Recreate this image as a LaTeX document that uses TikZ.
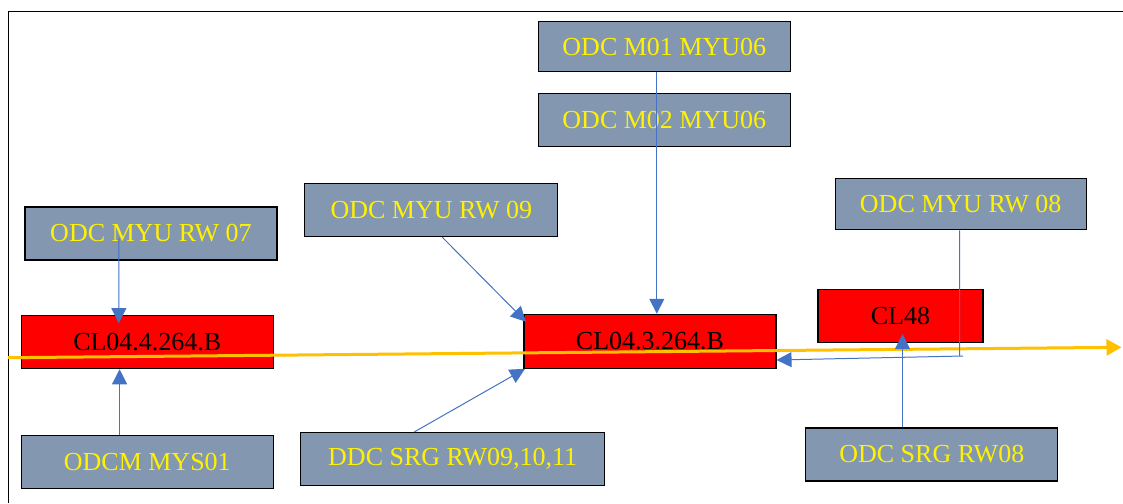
\documentclass[tikz,border=0pt]{standalone}
\usepackage{fontspec}
\setmainfont{Liberation Serif}
\usetikzlibrary{arrows.meta,positioning}
\definecolor{boxgray}{HTML}{8497B0}
\definecolor{linkblue}{HTML}{4472C4}
\definecolor{railorange}{HTML}{FFC000}
\begin{document}
\begin{tikzpicture}[x=1pt, y=-1pt,
        odc/.style={rectangle, draw=black, line width=1.1pt, fill=boxgray, text=yellow, minimum width=252pt, minimum height=53pt, inner sep=0pt, font=\fontsize{26}{30}\selectfont},
        cl/.style={odc, fill=red, text=black},
        link/.style={draw=linkblue, line width=1pt, -{Triangle[length=15pt,width=15pt]}},
        rail/.style={draw=railorange, line width=3pt, -{Triangle[length=15pt,width=16pt]}}]
        \useasboundingbox (0,0) rectangle (1123,503);
        \draw[line width=1pt] (8,503) -- (8,11.5) -- (1123,11.5);
        % left group
        \node [odc] (rw07) at (151,233.5) {ODC MYU RW 07};
        \node [cl] (cl044) at (147.3,342.2) {CL04.4.264.B};
        \node [odc] (mys01) at (147.3,461.7) {ODCM MYS01};
        % middle group
        \node [odc, minimum width=253pt] (rw09) at (431.3,210.2) {ODC MYU RW 09};
        \node [odc, minimum width=304pt] (ddc) at (452.7,459) {DDC SRG RW09,10,11};
        \node [odc, minimum height=50pt] (m01) at (664.3,46.9) {ODC M01 MYU06};
        \node [odc] (m02) at (664.3,120) {ODC M02 MYU06};
        \node [cl, minimum height=54pt] (cl043) at (650,341.3) {CL04.3.264.B};
        % right group
        \node [odc, minimum width=251pt, minimum height=51pt] (rw08) at (960.7,204.3) {ODC MYU RW 08};
        \node [cl, minimum width=165pt] (cl48) at (900.5,316) {CL48};
        \node [odc] (srg08) at (931.8,454.5) {ODC SRG RW08};
        \coordinate (railL) at (8,357.7);
        \coordinate (railR) at (1121.5,347.3);
        \coordinate (bend) at (963,356);
        \draw[rail] (railL) -- (railR);
        \draw[link] ([xshift=-32pt,yshift=-4.5pt]rw07.center) -- ([xshift=-28.5pt,yshift=-8pt]cl044.north);
        \draw[link] ([xshift=-27.7pt]mys01.north) -- ([xshift=-27.7pt]cl044.south);
        \draw[link] ([xshift=11pt]rw09.south) -- ([xshift=2.5pt,yshift=-8pt]cl043.north west);
        \draw[link] ([xshift=-38.4pt]ddc.north) -- ([xshift=1.5pt]cl043.south west);
        \draw[link] ([xshift=-7.5pt]m01.south) -- ([xshift=6.8pt]cl043.north);
        \draw[link] ([xshift=-29.3pt]srg08.north) -- ([xshift=2pt,yshift=9pt]cl48.south);
        \draw[link] ([xshift=-1pt]rw08.south) |- (bend) -- ([yshift=-18.7pt]cl043.east);
\end{tikzpicture}
\end{document}
